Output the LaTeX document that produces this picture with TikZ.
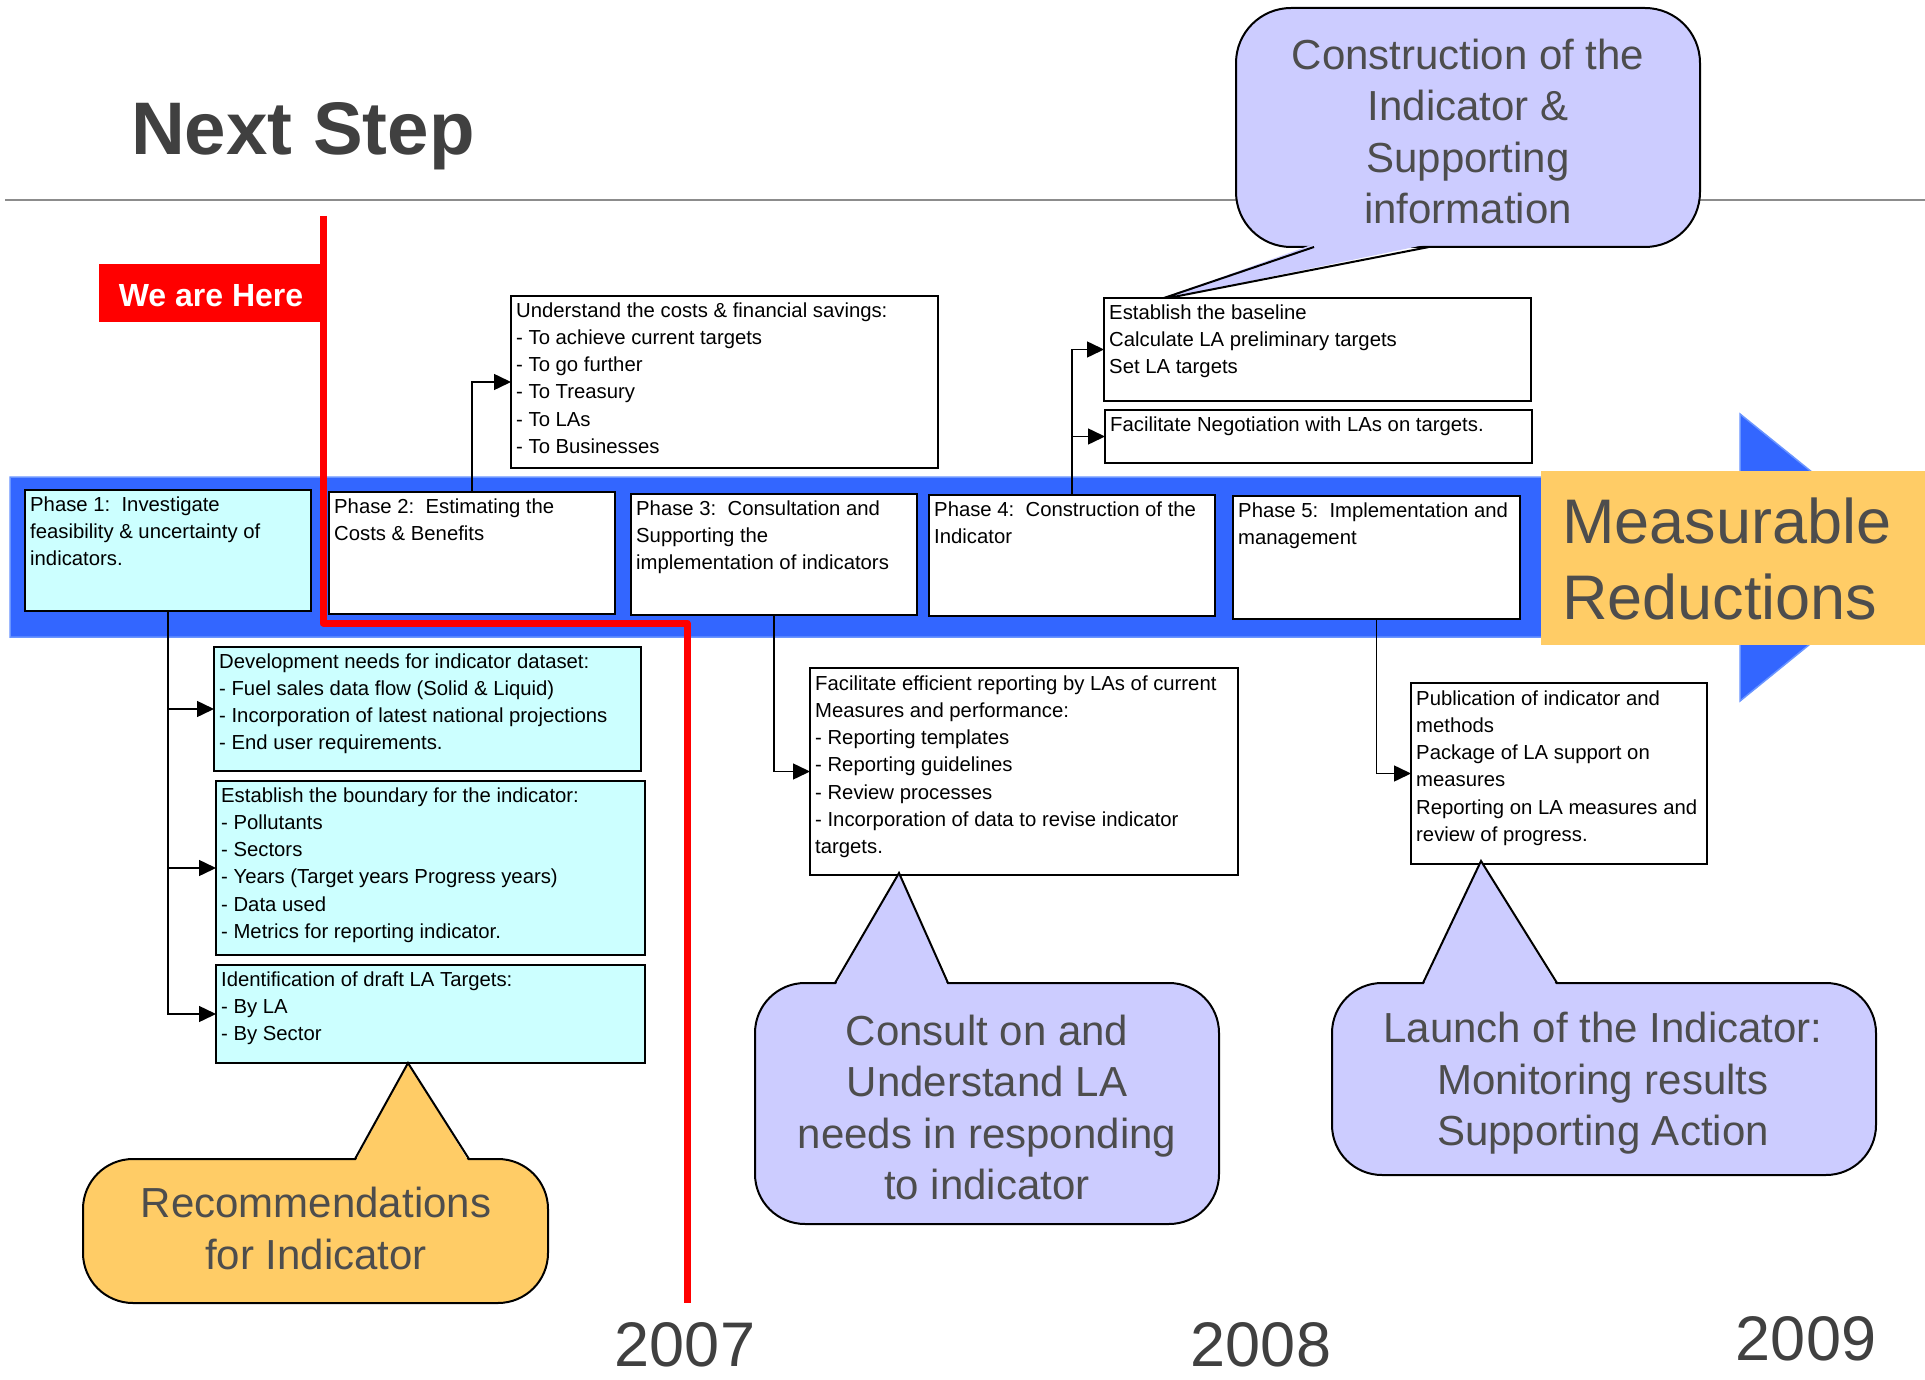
\documentclass[tikz,border=0pt]{standalone}
\usepackage{fontspec}
\setmainfont{Liberation Sans}
\usetikzlibrary{arrows.meta}
\definecolor{bandblue}{HTML}{3366FF}
\definecolor{bandedge}{HTML}{6A95FF}
\definecolor{cyanbox}{HTML}{CCFFFF}
\definecolor{orangebox}{HTML}{FFCC66}
\definecolor{lilac}{HTML}{CCCCFF}
\definecolor{darktext}{HTML}{4D4D4D}
\definecolor{titlegray}{HTML}{404040}
\definecolor{rulegray}{HTML}{8C8C8C}
\definecolor{herered}{HTML}{FF0000}
\begin{document}
\begin{tikzpicture}[x=1pt,y=-1pt,
  boxst/.style={draw=black, line width=2pt, anchor=north west, inner sep=0, outer sep=0, fill=white},
  btxt/.style={anchor=north west, inner sep=0, align=left, font=\fontsize{20.3}{27.2}\selectfont},
  conn/.style={line width=1.5pt, -{Triangle[length=17pt,width=16pt]}},
  calloutst/.style={draw=black, line width=2pt},
  ctxt/.style={align=center, text=darktext, font=\fontsize{42}{51.5}\selectfont, inner sep=0},
  yeartxt/.style={anchor=base, text=titlegray, font=\fontsize{63}{70}\selectfont, inner sep=0}]

\useasboundingbox (0,0) rectangle (1925,1380);
\fill[white] (0,0) rectangle (1925,1380);

% title and rule
\node[anchor=base west, inner sep=0, text=titlegray, font=\fontsize{74.5}{80}\selectfont\bfseries] (title) at (131,155) {Next Step};
\draw[rulegray, line width=2pt] (5,200) -- (1925,200);

% top callout
\filldraw[fill=lilac, calloutst, rounded corners=55] (1236,8) rectangle (1700,247);
\fill[lilac] (1314,244) -- (1158,300) -- (1429,244) -- cycle;
\draw[calloutst] (1314,247) -- (1158,300) -- (1429,247);
\node[ctxt] (ctop) at (1468,136) {\strut Construction of the\\Indicator \&\\Supporting\\information\strut};

% band with arrow
\filldraw[fill=bandblue, draw=bandedge, line width=1.5pt] (10,477) -- (1740,477) -- (1740,414) -- (1917,557) -- (1740,701) -- (1740,637) -- (10,637) -- cycle;
\fill[orangebox] (1541,471) rectangle (1925,645);
\node[anchor=north west, inner sep=0, align=left, text=darktext, font=\fontsize{63}{76}\selectfont] (meas) at (1562,490) {\strut Measurable\\Reductions};

% phase boxes
\node[boxst, fill=cyanbox, minimum width=286, minimum height=121] (p1) at (25,490) {};
\node[boxst, minimum width=286, minimum height=122] (p2) at (329,492) {};
\node[boxst, minimum width=286, minimum height=121] (p3) at (631,494) {};
\node[boxst, minimum width=286, minimum height=121] (p4) at (929,495) {};
\node[boxst, minimum width=287, minimum height=123] (p5) at (1233,496) {};
\node[btxt] (p1t) at (30,492) {\strut Phase 1:\ \ Investigate\\feasibility \& uncertainty of\\indicators.};
\node[btxt] (p2t) at (334,494) {\strut Phase 2:\ \ Estimating the\\Costs \& Benefits};
\node[btxt] (p3t) at (636,496) {\strut Phase 3:\ \ Consultation and\\Supporting the\\implementation of indicators};
\node[btxt] (p4t) at (934,497) {\strut Phase 4:\ \ Construction of the\\Indicator};
\node[btxt] (p5t) at (1238,498) {\strut Phase 5:\ \ Implementation and\\management};

% upper boxes
\node[boxst, minimum width=427, minimum height=172] (cost) at (511,296) {};
\node[btxt] (costt) at (516,298) {\strut Understand the costs \& financial savings:\\- To achieve current targets\\- To go further\\- To Treasury\\- To LAs\\- To Businesses};
\node[boxst, minimum width=427, minimum height=103] (base) at (1104,298) {};
\node[btxt] (baset) at (1109,300) {\strut Establish the baseline\\Calculate LA preliminary targets\\Set LA targets};
\node[boxst, minimum width=427, minimum height=53] (neg) at (1105,410) {};
\node[btxt] (negt) at (1110,412) {\strut Facilitate Negotiation with LAs on targets.};

% lower boxes
\node[boxst, fill=cyanbox, minimum width=427, minimum height=124] (bA) at (214,647) {};
\node[btxt] (bAt) at (219,649) {\strut Development needs for indicator dataset:\\- Fuel sales data flow (Solid \& Liquid)\\- Incorporation of latest national projections\\- End user requirements.};
\node[boxst, fill=cyanbox, minimum width=429, minimum height=174] (bB) at (216,781) {};
\node[btxt] (bBt) at (221,783) {\strut Establish the boundary for the indicator:\\- Pollutants\\- Sectors\\- Years (Target years Progress years)\\- Data used\\- Metrics for reporting indicator.};
\node[boxst, fill=cyanbox, minimum width=429, minimum height=98] (bC) at (216,965) {};
\node[btxt] (bCt) at (221,967) {\strut Identification of draft LA Targets:\\- By LA\\- By Sector};
\node[boxst, minimum width=428, minimum height=207] (b3) at (810,668) {};
\node[btxt] (b3t) at (815,671) {\strut Facilitate efficient reporting by LAs of current\\Measures and performance:\\- Reporting templates\\- Reporting guidelines\\- Review processes\\- Incorporation of data to revise indicator\\targets.};
\node[boxst, minimum width=296, minimum height=181] (b5) at (1411,683) {};
\node[btxt] (b5t) at (1416,686) {\strut Publication of indicator and\\methods\\Package of LA support on\\measures\\Reporting on LA measures and\\review of progress.};

% connectors
\draw[conn] (p2.north) |- (cost.west);
\draw[conn] (p4.north) |- (base.west);
\draw[conn] (p4.north) |- (neg.west);
\draw[conn] (p1.south) |- (bA.west);
\draw[conn] (p1.south) |- (bB.west);
\draw[conn] (p1.south) |- (bC.west);
\draw[conn] (p3.south) |- (b3.west);
\draw[conn] (p5.south) |- (b5.west);

% red marker
\draw[herered, line width=7pt, line join=round] (323,216) -- (323,623) -- (687,623) -- (687,1303);
\fill[herered] (99,264) rectangle (323,322);
\node[anchor=base, inner sep=0, text=white, font=\fontsize{32}{36}\selectfont\bfseries] (here) at (211,307) {We are Here};

% lower callouts
\filldraw[fill=orangebox, calloutst, rounded corners=50] (83,1159) rectangle (548,1303);
\fill[orangebox] (355,1162) -- (408,1063) -- (469,1162) -- cycle;
\draw[calloutst] (355,1159) -- (408,1063) -- (469,1159);
\node[ctxt] (crec) at (316,1233) {\strut Recommendations\\for Indicator\strut};

\filldraw[fill=lilac, calloutst, rounded corners=50] (755,983) rectangle (1219,1224);
\fill[lilac] (835,986) -- (899,873) -- (948,986) -- cycle;
\draw[calloutst] (835,983) -- (899,873) -- (948,983);
\node[ctxt] (ccon) at (987,1112) {\strut Consult on and\\Understand LA\\needs in responding\\to indicator\strut};

\filldraw[fill=lilac, calloutst, rounded corners=50] (1332,983) rectangle (1876,1175);
\fill[lilac] (1423,986) -- (1481,861) -- (1557,986) -- cycle;
\draw[calloutst] (1423,983) -- (1481,861) -- (1557,983);
\node[ctxt] (claunch) at (1603,1084) {\strut Launch of the Indicator:\\Monitoring results\\Supporting Action\strut};

% years
\node[yeartxt] (y2007) at (685,1366) {2007};
\node[yeartxt] (y2008) at (1261,1366) {2008};
\node[yeartxt] (y2009) at (1806,1360) {2009};
\end{tikzpicture}
\end{document}
